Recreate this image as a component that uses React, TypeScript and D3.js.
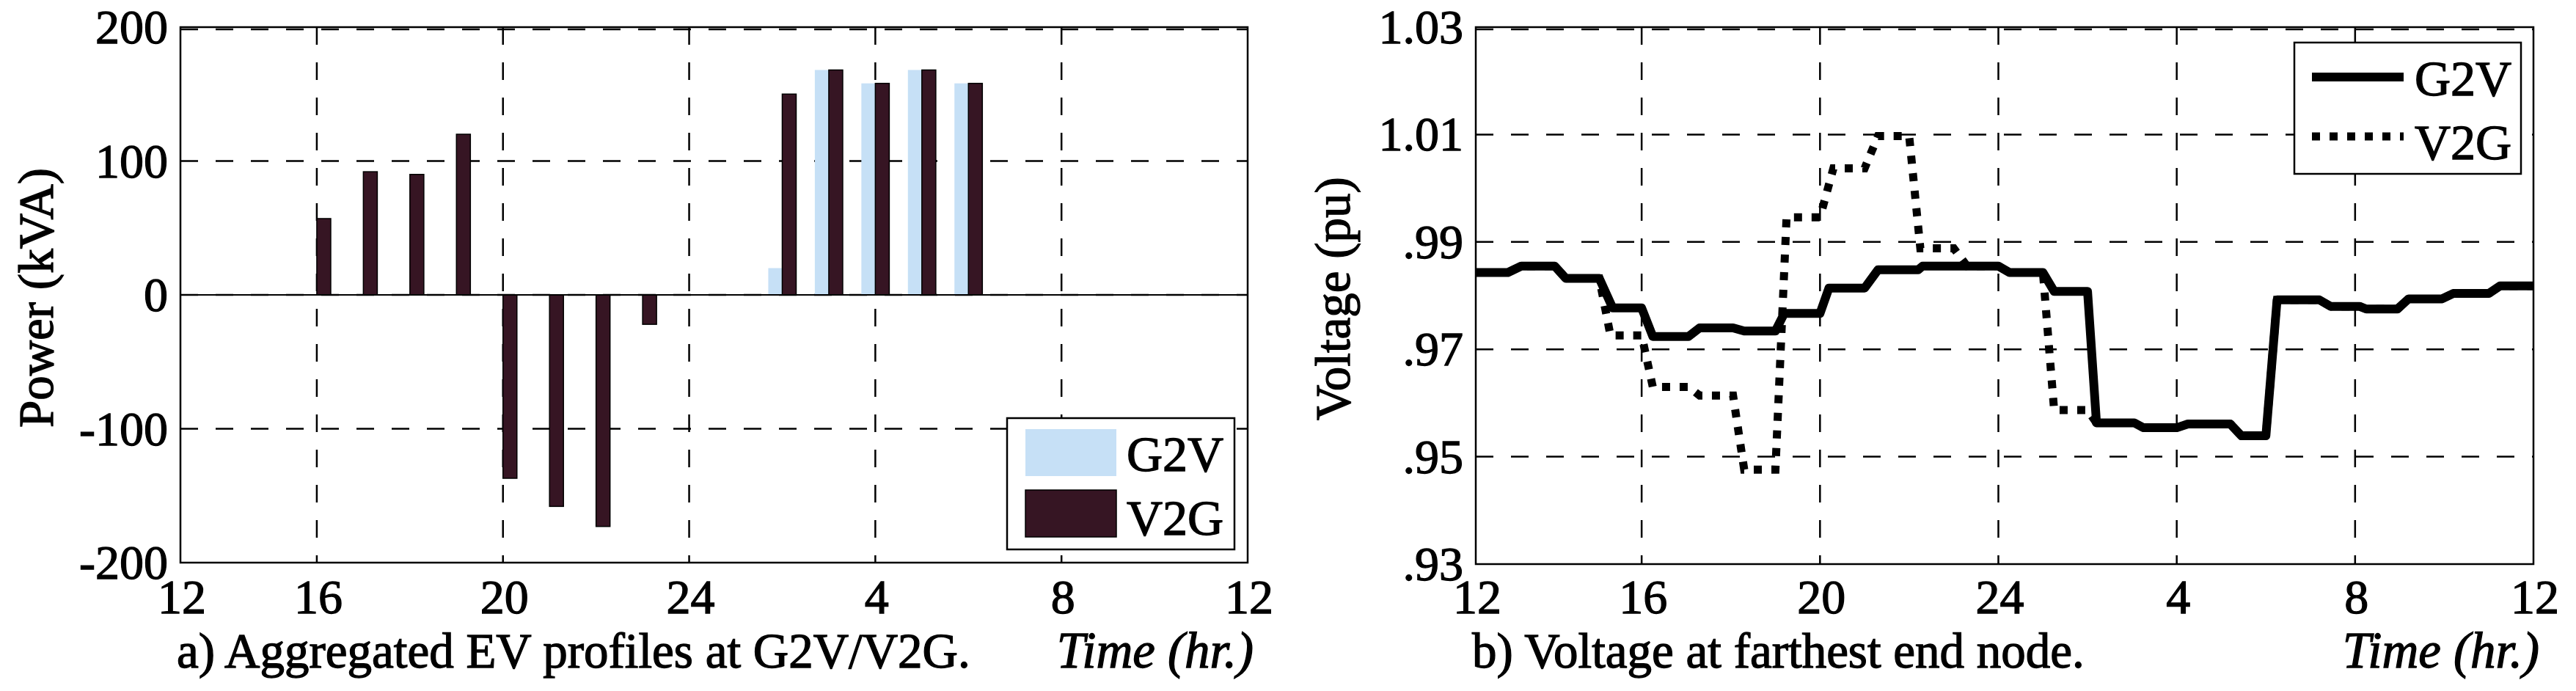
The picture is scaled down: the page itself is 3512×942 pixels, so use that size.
import { useEffect, useRef } from 'react';
import * as d3 from 'd3';

// ---- panel a) aggregated EV power (kVA), hour of day (28 = 4 am next day)
const v2gHours = [16, 17, 18, 19, 20, 21, 22, 23, 26, 27, 28, 29, 30];
const v2gPower = [57, 92, 90, 120, -137, -158, -173, -22, 150, 168, 158, 168, 158];
const g2vHours = [26, 27, 28, 29, 30];
const g2vPower = [20, 168, 158, 168, 158];

const powerTicks = [200, 100, 0, -100, -200];
const powerTickLabels = ['200', '100', '0', '-100', '-200'];

// ---- panel b) voltage at farthest end node (pu)
const g2vTime = [12.28, 13.0, 13.3, 14.05, 14.3, 15.05, 15.35, 16.0, 16.25, 17.05, 17.3, 18.05, 18.3, 19.0, 19.2, 20.0,
  20.2, 21.0, 21.3, 22.2, 22.3, 24.0, 24.25, 25.0, 25.25, 26.0, 26.2, 27.05, 27.25, 28.0, 28.25, 29.2, 29.45, 30.0,
  30.25, 31.2, 31.45, 32.1, 32.25, 32.95, 33.2, 33.95, 34.2, 35.0, 35.25, 36.0];
const g2vVolt = [0.9843, 0.9843, 0.9855, 0.9855, 0.9832, 0.9832, 0.9777, 0.9777, 0.9724, 0.9724, 0.974, 0.974, 0.9734,
  0.9734, 0.9767, 0.9767, 0.9814, 0.9814, 0.9848, 0.9848, 0.9855, 0.9855, 0.9843, 0.9843, 0.9808, 0.9808, 0.9563,
  0.9563, 0.9554, 0.9554, 0.9561, 0.9561, 0.9539, 0.9539, 0.9792, 0.9792, 0.978, 0.978, 0.9775, 0.9775, 0.9794,
  0.9794, 0.9804, 0.9804, 0.9818, 0.9818];

const v2gTime = [12.28, 13.0, 13.3, 14.05, 14.3, 15.05, 15.3, 16.0, 16.25, 17.05, 17.3, 18.05, 18.3, 19.0, 19.25, 20.0,
  20.3, 21.0, 21.3, 22.0, 22.25, 23.0, 23.3, 24.0, 24.25, 25.0, 25.25, 26.0, 26.2, 27.05, 27.25, 28.0, 28.25, 29.2,
  29.45, 30.0, 30.25, 31.2, 31.45, 32.1, 32.25, 32.95, 33.2, 33.95, 34.2, 35.0, 35.25, 36.0];
const v2gVolt = [0.9843, 0.9843, 0.9855, 0.9855, 0.9832, 0.9832, 0.9726, 0.9726, 0.963, 0.963, 0.9614, 0.9614, 0.9476,
  0.9476, 0.9946, 0.9946, 1.0037, 1.0037, 1.0097, 1.0097, 0.9888, 0.9888, 0.9855, 0.9855, 0.9843, 0.9843, 0.9587,
  0.9587, 0.9563, 0.9563, 0.9554, 0.9554, 0.9561, 0.9561, 0.9539, 0.9539, 0.9792, 0.9792, 0.978, 0.978, 0.9775,
  0.9775, 0.9794, 0.9794, 0.9804, 0.9804, 0.9818, 0.9818];

const voltTicks = [1.03, 1.01, 0.99, 0.97, 0.95, 0.93];
const voltTickLabels = ['1.03', '1.01', '.99', '.97', '.95', '.93'];

// shared time axis
const timeTicks = [16, 20, 24, 28, 32, 36];
const timeTickLabels = ['12', '16', '20', '24', '4', '8', '12'];

const seriesNames = ['G2V', 'V2G'];

const G2V_FILL = '#c6e0f6';
const V2G_FILL = '#361523';
const FONT = 'Liberation Serif, Times New Roman, serif';

export default function App() {
  const svgRef = useRef<SVGSVGElement>(null);

  useEffect(() => {
    const svg = d3.select(svgRef.current);
    svg.selectAll('*').remove();
    svg.append('rect').attr('width', 3512).attr('height', 942).attr('fill', 'white');

    // the scanned figure has heavy glyphs, so text gets a thin outline
    const label = (sel: any, size: number) =>
      sel.attr('font-family', FONT)
        .attr('font-size', size)
        .attr('fill', '#000')
        .attr('stroke', '#000')
        .attr('stroke-width', 1.3);

    const drawFrame = (
      x: d3.ScaleLinear<number, number>,
      y: d3.ScaleLinear<number, number>,
      yTicks: number[],
      yLabels: string[],
      yTitle: string,
      titleX: number,
      caption: string
    ) => {
      const [x0, x1] = x.range();
      const [y1, y0] = y.range();
      const g = svg.append('g');

      // dashed grid
      g.selectAll('.vgrid')
        .data(timeTicks.slice(0, -1))
        .enter().append('line')
        .attr('x1', d => x(d)).attr('x2', d => x(d))
        .attr('y1', y0).attr('y2', y1)
        .attr('stroke', '#000').attr('stroke-width', 2.5)
        .attr('stroke-dasharray', '24,24');
      g.selectAll('.hgrid')
        .data(yTicks.slice(0, -1))
        .enter().append('line')
        .attr('x1', x0).attr('x2', x1)
        .attr('y1', d => y(d) + (d === yTicks[0] ? 3 : 0))
        .attr('y2', d => y(d) + (d === yTicks[0] ? 3 : 0))
        .attr('stroke', '#000').attr('stroke-width', 2.5)
        .attr('stroke-dasharray', '24,24');

      // box
      g.append('rect')
        .attr('x', x0).attr('y', y0)
        .attr('width', x1 - x0).attr('height', y1 - y0)
        .attr('fill', 'none').attr('stroke', '#000').attr('stroke-width', 2.5);

      // y tick labels
      label(g.selectAll('.ylab')
        .data(yTicks)
        .enter().append('text')
        .attr('x', x0 - 17)
        .attr('y', d => y(d) + 22)
        .attr('text-anchor', 'end'), 66)
        .text((_, i) => yLabels[i]);

      // x tick labels
      const xLabPos = [x.domain()[0], ...timeTicks];
      label(g.selectAll('.xlab')
        .data(xLabPos)
        .enter().append('text')
        .attr('x', d => x(d) + 2)
        .attr('y', 836)
        .attr('text-anchor', 'middle'), 66)
        .text((_, i) => timeTickLabels[i]);

      label(g.append('text')
        .attr('transform', `translate(${titleX},${(y0 + y1) / 2 + 4}) rotate(-90)`)
        .attr('text-anchor', 'middle'), 67)
        .text(yTitle);

      label(g.append('text')
        .attr('x', x0 - 5).attr('y', 910), 67)
        .text(caption);

      label(g.append('text')
        .attr('x', x1 + 8).attr('y', 910)
        .attr('text-anchor', 'end')
        .attr('font-style', 'italic'), 69)
        .text('Time (hr.)');
    };

    // ---------- panel a
    const xA = d3.scaleLinear().domain([13.07, 36]).range([246, 1701]);
    const yA = d3.scaleLinear().domain([-200, 200]).range([767, 37]);
    drawFrame(xA, yA, powerTicks, powerTickLabels, 'Power (kVA)', 72, 'a) Aggregated EV profiles at G2V/V2G.');

    const barW = 0.3;
    const ga = svg.append('g');
    ga.selectAll('.g2v')
      .data(g2vHours)
      .enter().append('rect')
      .attr('x', d => xA(d - barW))
      .attr('width', xA(barW) - xA(0))
      .attr('y', (_, i) => yA(Math.max(0, g2vPower[i])))
      .attr('height', (_, i) => Math.abs(yA(g2vPower[i]) - yA(0)))
      .attr('fill', G2V_FILL);
    ga.selectAll('.v2g')
      .data(v2gHours)
      .enter().append('rect')
      .attr('x', d => xA(d))
      .attr('width', xA(barW) - xA(0))
      .attr('y', (_, i) => yA(Math.max(0, v2gPower[i])))
      .attr('height', (_, i) => Math.abs(yA(v2gPower[i]) - yA(0)))
      .attr('fill', V2G_FILL)
      .attr('stroke', '#000').attr('stroke-width', 1.5);
    ga.append('line')
      .attr('x1', xA.range()[0]).attr('x2', xA.range()[1])
      .attr('y1', yA(0)).attr('y2', yA(0))
      .attr('stroke', '#000').attr('stroke-width', 2);

    // legend a
    const la = svg.append('g');
    la.append('rect')
      .attr('x', 1373).attr('y', 570).attr('width', 310).attr('height', 179)
      .attr('fill', 'white').attr('stroke', '#000').attr('stroke-width', 2.5);
    la.selectAll('.sw')
      .data(seriesNames)
      .enter().append('rect')
      .attr('x', 1398).attr('y', (_, i) => 585 + i * 83)
      .attr('width', 124).attr('height', 64)
      .attr('fill', (_, i) => (i === 0 ? G2V_FILL : V2G_FILL))
      .attr('stroke', (_, i) => (i === 0 ? 'none' : '#000'))
      .attr('stroke-width', 1.5);
    label(la.selectAll('.lt')
      .data(seriesNames)
      .enter().append('text')
      .attr('x', 1536).attr('y', (_, i) => 642 + i * 87), 68)
      .text(d => d);

    // ---------- panel b
    const xB = d3.scaleLinear().domain([12.28, 36]).range([2012, 3454]);
    const yB = d3.scaleLinear().domain([0.93, 1.03]).range([769, 37]);
    drawFrame(xB, yB, voltTicks, voltTickLabels, 'Voltage (pu)', 1840, 'b) Voltage at farthest end node.');

    const line = d3.line<number>()
      .x(d => xB(d))
      .curve(d3.curveLinear);

    const gb = svg.append('g');
    gb.append('path')
      .attr('d', line.y((_, i) => yB(g2vVolt[i]))(g2vTime))
      .attr('fill', 'none').attr('stroke', '#000').attr('stroke-width', 12)
      .attr('stroke-linejoin', 'round');
    gb.append('path')
      .attr('d', line.y((_, i) => yB(v2gVolt[i]))(v2gTime))
      .attr('fill', 'none').attr('stroke', '#000').attr('stroke-width', 11)
      .attr('stroke-dasharray', '11,13');

    // legend b
    const lb = svg.append('g');
    lb.append('rect')
      .attr('x', 3128).attr('y', 58).attr('width', 309).attr('height', 179)
      .attr('fill', 'white').attr('stroke', '#000').attr('stroke-width', 2.5);
    lb.selectAll('.ll')
      .data(seriesNames)
      .enter().append('line')
      .attr('x1', 3152).attr('x2', 3277)
      .attr('y1', (_, i) => 105 + i * 81).attr('y2', (_, i) => 105 + i * 81)
      .attr('stroke', '#000')
      .attr('stroke-width', (_, i) => (i === 0 ? 12 : 11))
      .attr('stroke-dasharray', (_, i) => (i === 0 ? null : '11,13'));
    label(lb.selectAll('.lt')
      .data(seriesNames)
      .enter().append('text')
      .attr('x', 3292).attr('y', (_, i) => 130 + i * 87), 68)
      .text(d => d);
  }, []);

  return (
    <svg
      ref={svgRef}
      width={3512}
      height={942}
      style={{ position: 'absolute', left: 0, top: 0 }}
    />
  );
}
